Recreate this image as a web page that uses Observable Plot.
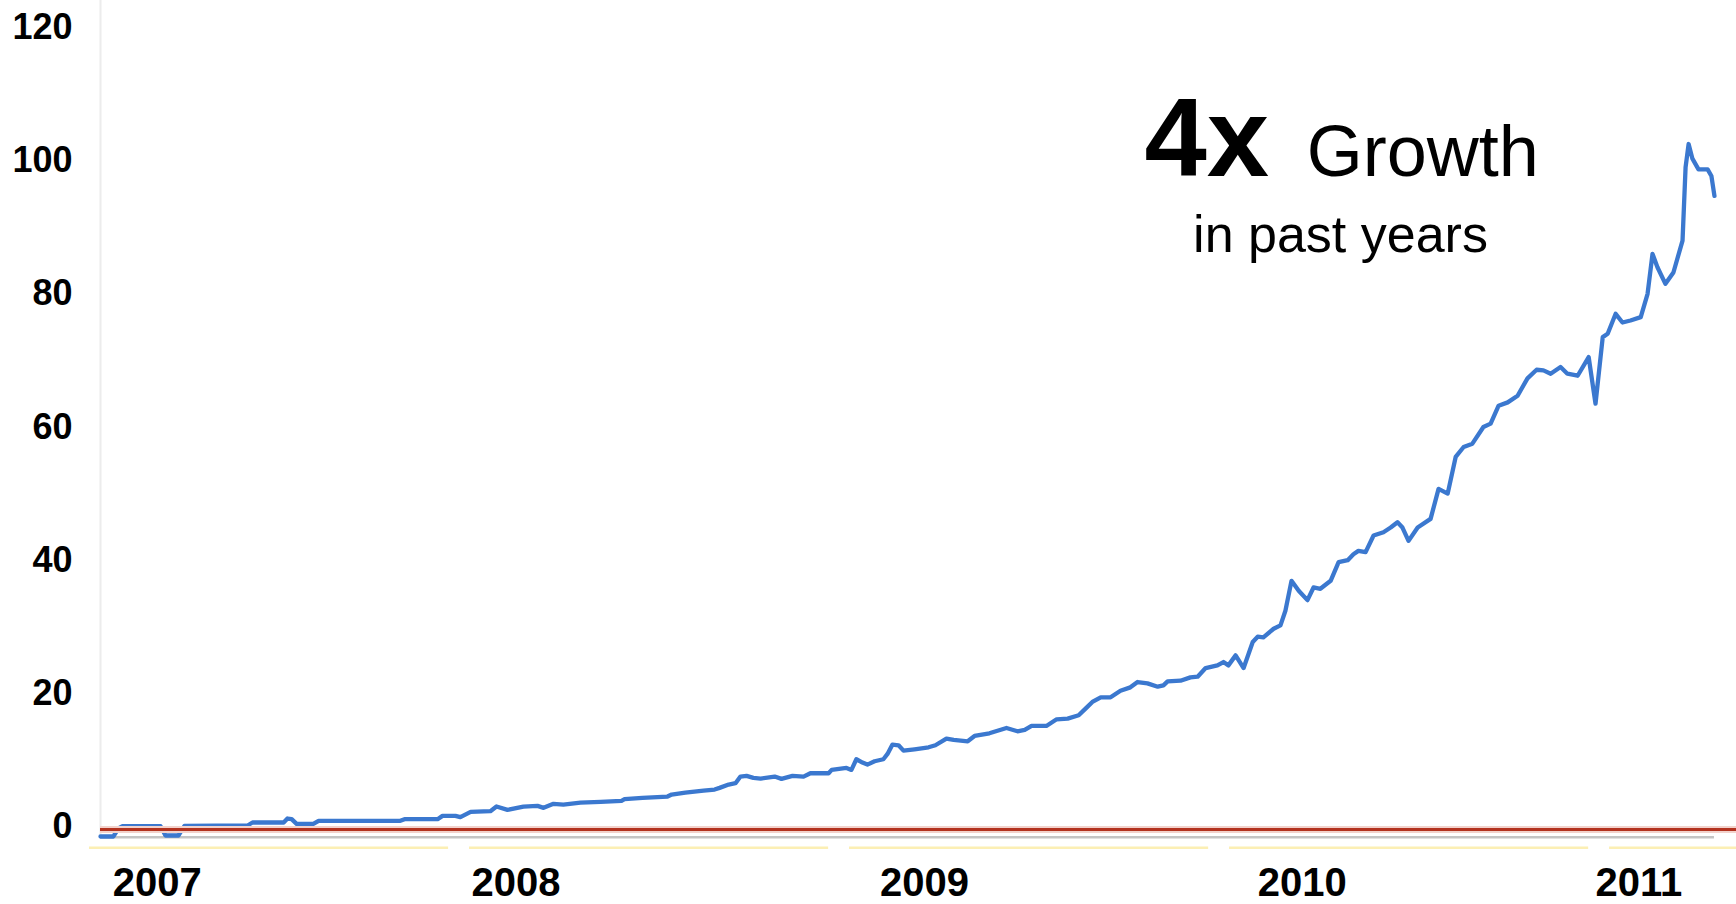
<!DOCTYPE html>
<html>
<head>
<meta charset="utf-8">
<script src="https://cdn.jsdelivr.net/npm/d3@7"></script>
<script src="https://cdn.jsdelivr.net/npm/@observablehq/plot@0.6"></script>
<style>
html, body { margin: 0; padding: 0; background: #fff; overflow: hidden; }
#chart { width: 1736px; height: 904px; }
</style>
</head>
<body>
<div id="chart"></div>
<script>
// time in decimal years
const weeks = [
  2007.029, 2007.063, 2007.076, 2007.087, 2007.187, 2007.200, 2007.234, 2007.250, 2007.416, 2007.429,
  2007.511, 2007.521, 2007.532, 2007.545, 2007.589, 2007.603, 2007.818, 2007.829, 2007.916, 2007.929,
  2007.963, 2007.976, 2008.003, 2008.055, 2008.071, 2008.100, 2008.142, 2008.179, 2008.195, 2008.221,
  2008.247, 2008.292, 2008.345, 2008.400, 2008.408, 2008.455, 2008.521, 2008.532, 2008.568, 2008.616,
  2008.645, 2008.658, 2008.682, 2008.700, 2008.713, 2008.729, 2008.747, 2008.766, 2008.803, 2008.821,
  2008.850, 2008.879, 2008.897, 2008.945, 2008.953, 2008.992, 2009.005, 2009.018, 2009.034, 2009.047,
  2009.066, 2009.089, 2009.100, 2009.113, 2009.129, 2009.142, 2009.171, 2009.208, 2009.226, 2009.255,
  2009.274, 2009.311, 2009.329, 2009.368, 2009.413, 2009.442, 2009.461, 2009.479, 2009.518, 2009.545,
  2009.574, 2009.603, 2009.621, 2009.639, 2009.661, 2009.687, 2009.713, 2009.739, 2009.758, 2009.784,
  2009.811, 2009.826, 2009.837, 2009.871, 2009.897, 2009.916, 2009.937, 2009.968, 2009.984, 2009.997,
  2010.016, 2010.037, 2010.061, 2010.074, 2010.089, 2010.116, 2010.134, 2010.147, 2010.163, 2010.182,
  2010.205, 2010.221, 2010.239, 2010.266, 2010.287, 2010.311, 2010.326, 2010.339, 2010.358, 2010.379,
  2010.405, 2010.424, 2010.442, 2010.455, 2010.471, 2010.495, 2010.529, 2010.550, 2010.574, 2010.595,
  2010.616, 2010.639, 2010.668, 2010.687, 2010.708, 2010.732, 2010.758, 2010.784, 2010.808, 2010.826,
  2010.845, 2010.871, 2010.889, 2010.916, 2010.945, 2010.963, 2010.982, 2010.995, 2011.016, 2011.034,
  2011.055, 2011.082, 2011.100, 2011.113, 2011.126, 2011.147, 2011.168, 2011.192, 2011.200, 2011.208,
  2011.218, 2011.234, 2011.258, 2011.268, 2011.276
];
const interest = [
  -1.5, -1.5, -0.3, 0.05, 0.05, -1.35, -1.35, 0.1, 0.15, 0.6,
  0.6, 1.2, 1.1, 0.4, 0.4, 0.85, 0.85, 1.1, 1.1, 1.6,
  1.6, 1.4, 2.2, 2.3, 3.0, 2.5, 3.0, 3.1, 2.8, 3.4,
  3.3, 3.6, 3.7, 3.85, 4.1, 4.3, 4.5, 4.8, 5.1, 5.4,
  5.55, 5.8, 6.3, 6.5, 7.5, 7.6, 7.3, 7.2, 7.5, 7.15,
  7.6, 7.5, 8.0, 8.0, 8.5, 8.8, 8.5, 10.1, 9.6, 9.3,
  9.8, 10.1, 10.9, 12.3, 12.2, 11.4, 11.6, 11.9, 12.2, 13.2,
  13.0, 12.8, 13.6, 14.0, 14.8, 14.3, 14.5, 15.1, 15.1, 16.1,
  16.2, 16.7, 17.7, 18.7, 19.4, 19.4, 20.4, 20.9, 21.7, 21.5,
  21.0, 21.2, 21.8, 21.9, 22.4, 22.5, 23.8, 24.2, 24.7, 24.2,
  25.7, 23.8, 27.7, 28.5, 28.4, 29.7, 30.2, 32.4, 36.9, 35.4,
  34.0, 35.9, 35.7, 36.9, 39.7, 40.0, 40.9, 41.4, 41.2, 43.7,
  44.2, 44.9, 45.7, 44.9, 42.9, 44.9, 46.2, 50.7, 50.0, 55.5,
  57.0, 57.5, 60.0, 60.5, 63.2, 63.7, 64.7, 67.3, 68.6, 68.5,
  68.0, 69.0, 68.0, 67.7, 70.5, 63.5, 73.5, 74.0, 77.0, 75.7,
  76.0, 76.5, 80.0, 86.0, 84.0, 81.5, 83.2, 88.0, 99.0, 102.5,
  100.3, 98.7, 98.7, 97.7, 94.7
];

// axis ticks and labels
const yTicks = [0, 20, 40, 60, 80, 100, 120];
const yearLabels = ["2007", "2008", "2009", "2010", "2011"];
const yearLabelAt = [2007.061, 2008.005, 2009.080, 2010.074, 2010.963];
const yearStarts = [2007, 2008, 2009, 2010, 2011];

// annotation
const headlineBig = ["4x"];
const headlineBigAt = [{t: 2009.776, v: 97.7}];
const headlineWord = ["Growth"];
const headlineWordAt = [{t: 2010.203, v: 97.7}];
const subline = ["in past years"];
const sublineAt = [{t: 2010.292, v: 86.3}];

const xDomain = [2007.029, 2011.334];
const series = weeks.map((t, i) => ({t, v: interest[i]}));
const labels = yearLabels.map((s, i) => ({label: s, at: yearLabelAt[i]}));
const font = "'Liberation Sans', Arial, Helvetica, sans-serif";

const chart = Plot.plot({
  width: 1736,
  height: 904,
  marginLeft: 100,
  marginRight: 0,
  marginTop: 0,
  marginBottom: 0,
  style: {fontFamily: font, background: "#ffffff", color: "#000"},
  x: {domain: xDomain, axis: null},
  y: {domain: [0, 120], range: [826, 27], axis: null},
  marks: [
    Plot.ruleX([xDomain[0]], {y1: -1.7, y2: 130, stroke: "#ececec", strokeWidth: 2}),
    Plot.ruleY(yearStarts, {y: -3.2, x1: d => d, x2: d => d + 0.945, stroke: "#fcefb4", strokeWidth: 2.5}),
    Plot.ruleY([-1.6], {x1: weeks[0], x2: weeks[weeks.length - 1], stroke: "#c4c4c4", strokeWidth: 2.5}),
    Plot.line(series, {x: "t", y: "v", stroke: "#3b78cf", strokeWidth: 4.3, strokeLinejoin: "round", strokeLinecap: "round"}),
    Plot.ruleY([-0.45], {stroke: "#f2d2cc", strokeWidth: 7}),
    Plot.ruleY([-0.45], {stroke: "#b3321f", strokeWidth: 3.2}),
    Plot.axisY(yTicks, {anchor: "left", tickSize: 0, tickPadding: 28, fontSize: 36, fontWeight: "bold", fill: "#000", label: null}),
    Plot.text(labels, {x: "at", text: "label", frameAnchor: "bottom", textAnchor: "start", lineAnchor: "bottom", dy: -9, fontSize: 40, fontWeight: "bold", fill: "#000"}),
    Plot.text(headlineBigAt, {x: "t", y: "v", text: (d, i) => headlineBig[i], textAnchor: "start", lineAnchor: "bottom", fontSize: 112, fontWeight: "bold", fill: "#000"}),
    Plot.text(headlineWordAt, {x: "t", y: "v", text: (d, i) => headlineWord[i], textAnchor: "start", lineAnchor: "bottom", fontSize: 72, fill: "#000"}),
    Plot.text(sublineAt, {x: "t", y: "v", text: (d, i) => subline[i], textAnchor: "middle", lineAnchor: "bottom", fontSize: 52, fill: "#000"})
  ]
});
document.getElementById("chart").appendChild(chart);
</script>
</body>
</html>
